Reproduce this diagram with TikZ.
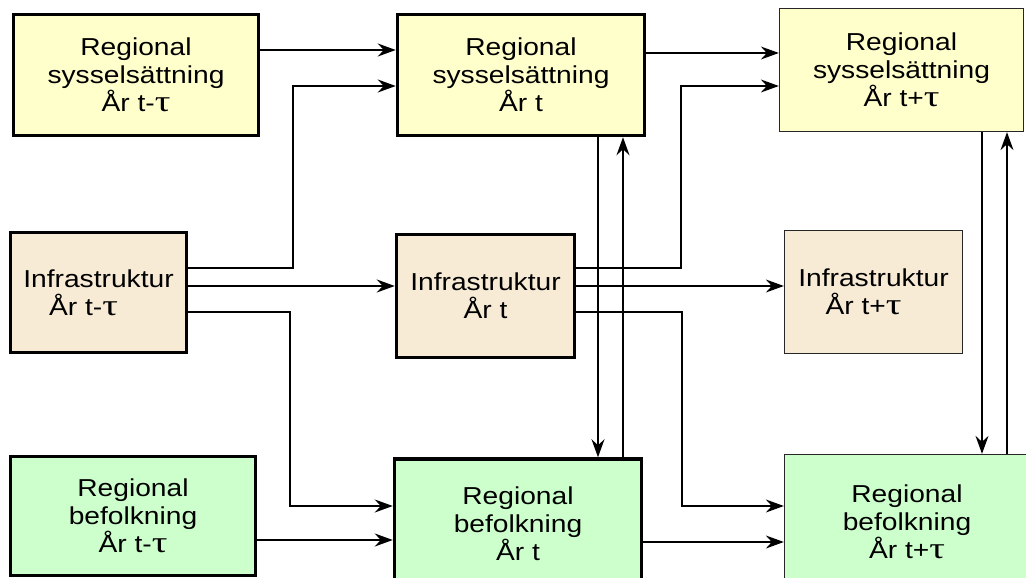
\documentclass[tikz,border=0pt]{standalone}
\usepackage{fontspec}
\setmainfont{Liberation Sans}[FakeStretch=1.15]
\newfontfamily\greekfont{Liberation Serif}[FakeStretch=1.3]
\newcommand{\tauchar}{{\greekfont\fontsize{30}{28}\selectfont τ}}
\usepackage{xcolor}
\usetikzlibrary{arrows.meta,positioning}

\definecolor{sysyellow}{RGB}{255,255,204}
\definecolor{infratan}{RGB}{247,235,213}
\definecolor{befgreen}{RGB}{204,255,204}

\begin{document}
\begin{tikzpicture}[
    x=1pt, y=-1pt,
    box/.style={rectangle, draw, line width=3.5pt, align=center, inner sep=0pt, font=\fontsize{24.5}{28}\selectfont},
    thinbox/.style={box, line width=1.3pt, draw=black!85},
    sys/.style={fill=sysyellow},
    infra/.style={fill=infratan},
    bef/.style={fill=befgreen},
    arrow/.style={-{Stealth[length=18pt, width=13pt, inset=6pt]}, line width=1.3pt},
    link/.style={line width=1.3pt}
]
\useasboundingbox (0,0) rectangle (1026,578);

% year t-tau
\node[box, sys, minimum width=245pt, minimum height=121pt] (sysA) at (136,75)
    {Regional\\sysselsättning\\År t-\tauchar};
\node[box, infra, minimum width=176pt, minimum height=120pt] (infA) at (98.5,292.5)
    {Infrastruktur\\År t-\tauchar\hspace*{30pt}};
\node[box, bef, minimum width=245pt, minimum height=119pt] (befA) at (133,516)
    {Regional\\befolkning\\År t-\tauchar};

% year t
\node[box, sys, minimum width=247pt, minimum height=121pt] (sysB) at (521,75)
    {Regional\\sysselsättning\\År t};
\node[box, infra, minimum width=178pt, minimum height=123pt] (infB) at (485.5,296)
    {Infrastruktur\\År t};
\node[box, bef, minimum width=247pt, minimum height=130pt] (befB) at (518,524)
    {Regional\\befolkning\\År t};

% year t+tau
\node[thinbox, sys, minimum width=244pt, minimum height=123pt] (sysC) at (901.5,70)
    {Regional\\sysselsättning\\År t+\tauchar};
\node[thinbox, infra, minimum width=178pt, minimum height=123pt] (infC) at (873.5,292)
    {Infrastruktur\\År t+\tauchar\hspace*{20pt}};
\node[thinbox, bef, minimum width=245pt, minimum height=135pt] (befC) at (907,522)
    {Regional\\befolkning\\År t+\tauchar};

% t-tau -> t
\draw[arrow] (sysA.east |- 0,50) -- (sysB.west |- 0,50);
\draw[arrow] (infA.east |- 0,268) -| (293,86) -- (sysB.west |- 0,86);
\draw[arrow] (infA.east |- 0,286) -- (infB.west |- 0,286);
\draw[arrow] (infA.east |- 0,312) -| (290,506) -- (befB.west |- 0,506);
\draw[arrow] (befA.east |- 0,540) -- (befB.west |- 0,540);

% t -> t+tau
\draw[arrow] (sysB.east |- 0,53) -- (sysC.west |- 0,53);
\draw[arrow] (infB.east |- 0,268) -| (681,86) -- (sysC.west |- 0,86);
\draw[arrow] (infB.east |- 0,286) -- (infC.west |- 0,286);
\draw[arrow] (infB.east |- 0,312) -| (682,506) -- (befC.west |- 0,506);
\draw[arrow] (befB.east |- 0,542) -- (befC.west |- 0,542);

% feedback sysselsättning <-> befolkning
\draw[arrow] (sysB.south -| 598,0) -- (befB.north -| 598,0);
\draw[arrow] (befB.north -| 623,0) -- (sysB.south -| 623,0);
\draw[arrow] (sysC.south -| 982,0) -- (befC.north -| 982,0);
\draw[arrow] (befC.north -| 1007,0) -- (sysC.south -| 1007,0);

\end{tikzpicture}
\end{document}
